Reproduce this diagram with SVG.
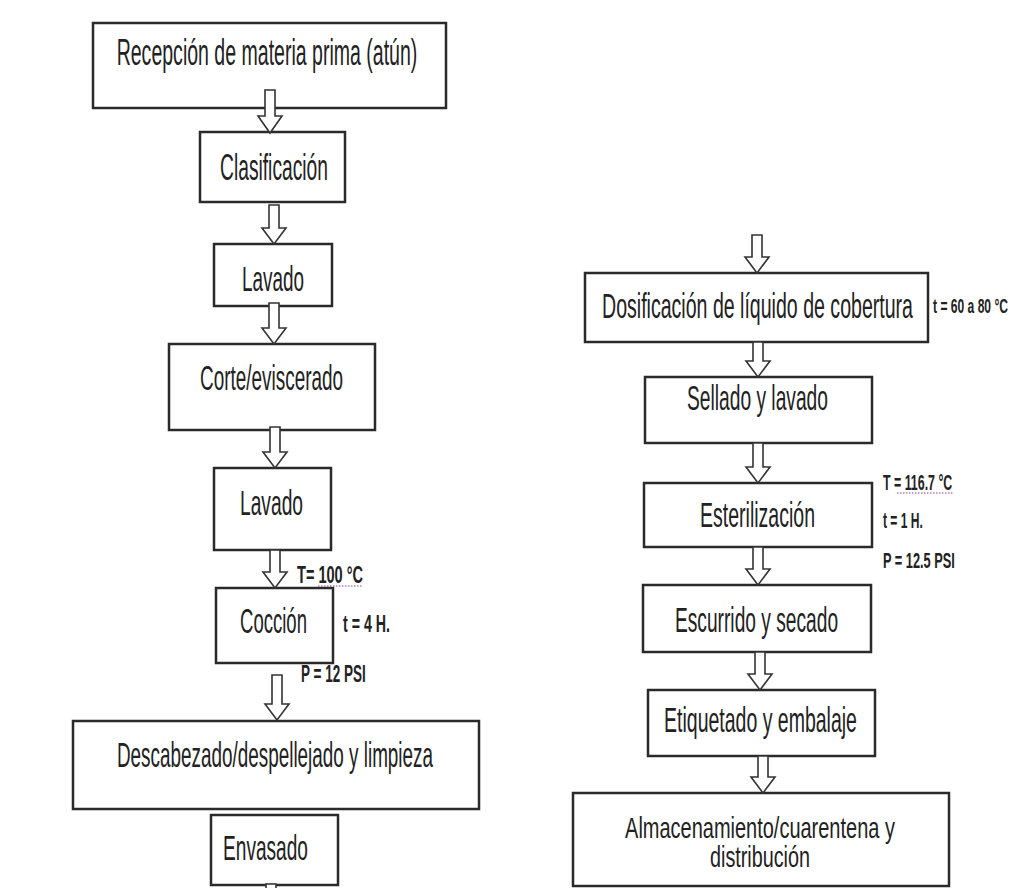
<svg xmlns="http://www.w3.org/2000/svg" width="1031" height="888" viewBox="0 0 1031 888">
<style>
.box{fill:#fff;stroke:#2a2a2a;stroke-width:2.5}
.arr{fill:#fff;stroke:#333;stroke-width:1.6;stroke-linejoin:miter}
.t{font-family:"Liberation Sans",Arial,sans-serif;font-size:35px;fill:#222;text-anchor:middle}
.lb{font-family:"Liberation Sans",Arial,sans-serif;font-size:24px;font-weight:bold;fill:#222}
.sq{stroke:#9a3fa0;stroke-width:1;stroke-dasharray:1.5 1.5;fill:none}
</style>
<rect width="1031" height="888" fill="#fff"/>
<g id="n1"><rect class="box" x="93" y="23" width="353" height="85"/><text class="t" style="font-size:37px" transform="translate(267,65) scale(0.528,1)">Recepción de materia prima (atún)</text></g>
<g id="n2"><rect class="box" x="200" y="132" width="145" height="70"/><text class="t" style="font-size:37px" transform="translate(274,180) scale(0.52,1)">Clasificación</text></g>
<g id="n3"><rect class="box" x="214" y="244" width="118" height="62"/><text class="t" transform="translate(273,291) scale(0.54,1)">Lavado</text></g>
<g id="n4"><rect class="box" x="169" y="344" width="206" height="86"/><text class="t" transform="translate(271.5,390) scale(0.541,1)">Corte/eviscerado</text></g>
<g id="n5"><rect class="box" x="214" y="468" width="117" height="82"/><text class="t" transform="translate(271.5,515) scale(0.549,1)">Lavado</text></g>
<g id="n6"><rect class="box" x="216" y="588" width="117" height="75"/><text class="t" transform="translate(273.5,633) scale(0.53,1)">Cocción</text>
<text class="lb" transform="translate(297,583) scale(0.606,1)">T= 100 °C</text>
<line class="sq" x1="318" y1="586" x2="363" y2="586"/>
<text class="lb" transform="translate(343,632) scale(0.592,1)">t = 4 H.</text>
<text class="lb" transform="translate(301,682) scale(0.563,1)">P = 12 PSI</text></g>
<g id="n7"><rect class="box" x="73" y="721" width="406" height="88"/><text class="t" transform="translate(275,767) scale(0.54,1)">Descabezado/despellejado y limpieza</text></g>
<g id="n8"><rect class="box" x="211" y="815" width="127" height="70"/><text class="t" transform="translate(265.5,860) scale(0.546,1)">Envasado</text></g>
<g id="r1"><rect class="box" x="585" y="273" width="343" height="69"/><text class="t" transform="translate(757.5,318) scale(0.559,1)">Dosificación de líquido de cobertura</text>
<text class="lb" style="font-size:20px" transform="translate(933,313) scale(0.604,1)">t = 60 a 80 °C</text></g>
<g id="r2"><rect class="box" x="645" y="377" width="227" height="66"/><text class="t" transform="translate(757.5,410) scale(0.549,1)">Sellado y lavado</text></g>
<g id="r3"><rect class="box" x="644" y="483" width="228" height="64"/><text class="t" transform="translate(757.5,527) scale(0.558,1)">Esterilización</text>
<text class="lb" style="font-size:22px" transform="translate(883,490) scale(0.563,1)">T = 116.7 °C</text>
<line class="sq" x1="897" y1="493" x2="953" y2="493"/>
<text class="lb" style="font-size:22px" transform="translate(883,528) scale(0.549,1)">t = 1 H.</text>
<text class="lb" style="font-size:22px" transform="translate(883,568) scale(0.58,1)">P = 12.5 PSI</text></g>
<g id="r4"><rect class="box" x="643" y="585" width="228" height="67"/><text class="t" transform="translate(756.5,632) scale(0.548,1)">Escurrido y secado</text></g>
<g id="r5"><rect class="box" x="648" y="690" width="227" height="66"/><text class="t" transform="translate(760.5,732) scale(0.557,1)">Etiquetado y embalaje</text></g>
<g id="r6"><rect class="box" x="573" y="793" width="376" height="93"/><text class="t" style="font-size:29px" transform="translate(760,838) scale(0.689,1)">Almacenamiento/cuarentena y</text><text class="t" style="font-size:29px" transform="translate(760,867) scale(0.682,1)">distribución</text></g>
<g id="connectors">
<path class="arr" d="M265,90 V116 H258 L270,133 L282,116 H275 V90 Z"/>
<path class="arr" d="M269,205 V228 H262 L274,244 L286,228 H279 V205 Z"/>
<path class="arr" d="M269,303 V328 H262 L274,344 L286,328 H279 V303 Z"/>
<path class="arr" d="M270,427 V452 H263 L275,468 L287,452 H280 V427 Z"/>
<path class="arr" d="M270,550 V572 H263 L275,588 L287,572 H280 V550 Z"/>
<path class="arr" d="M272,675 V704 H265 L277,720 L289,704 H282 V675 Z"/>
<path class="arr" d="M266,884 V900 H276 V884 Z"/>
<path class="arr" d="M752,235 V257 H745 L757,273 L769,257 H762 V235 Z"/>
<path class="arr" d="M753,342 V361 H746 L758,377 L770,361 H763 V342 Z"/>
<path class="arr" d="M753,443 V467 H746 L758,483 L770,467 H763 V443 Z"/>
<path class="arr" d="M753,547 V569 H746 L758,585 L770,569 H763 V547 Z"/>
<path class="arr" d="M755,652 V674 H748 L760,690 L772,674 H765 V652 Z"/>
<path class="arr" d="M758,756 V777 H751 L763,793 L775,777 H768 V756 Z"/>
</g>
</svg>
